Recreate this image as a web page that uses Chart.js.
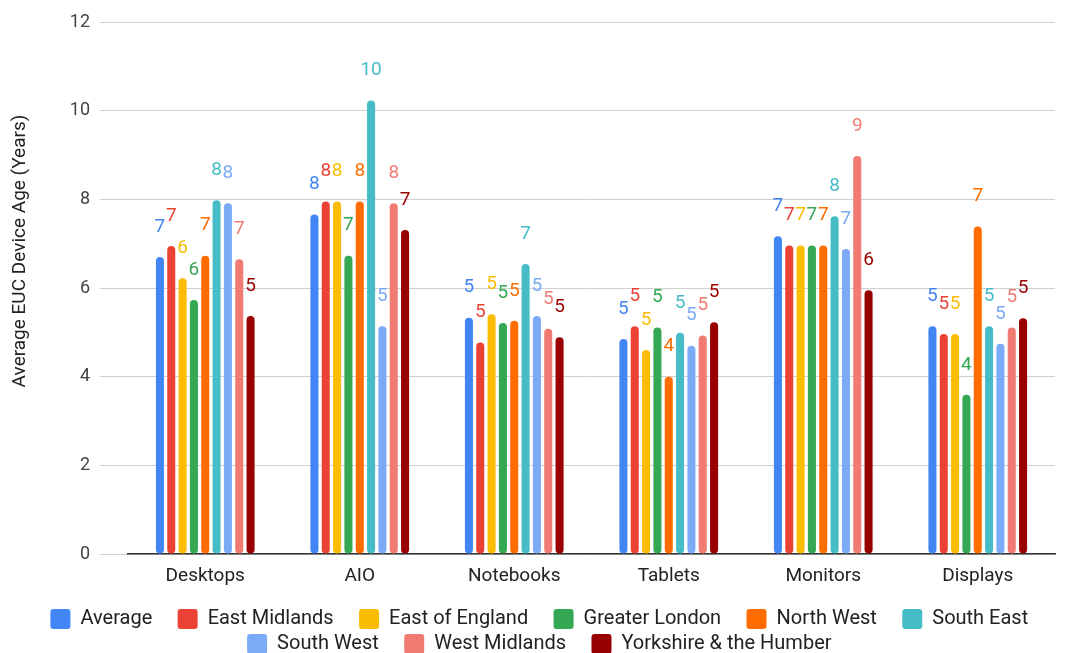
<!DOCTYPE html>
<html>
<head>
<meta charset="utf-8">
<script src="https://cdn.jsdelivr.net/npm/chart.js@4/dist/chart.umd.min.js"></script>
<style>
  body { margin: 0; background: #fff; }
  #wrap { width: 1071px; height: 653px; }
</style>
</head>
<body>
<div id="wrap"><canvas id="ageChart" width="1071" height="653"></canvas></div>
<script>
const categories = ["Desktops", "AIO", "Notebooks", "Tablets", "Monitors", "Displays"];
const yTicks = [0, 2, 4, 6, 8, 10, 12];
const yTitle = "Average EUC Device Age (Years)";

// average device age per region, in years
const average      = [6.70, 7.66, 5.33, 4.85, 7.17, 5.14];
const eastMidlands = [6.95, 7.95, 4.77, 5.14, 6.96, 4.96];
const eastEngland  = [6.22, 7.95, 5.41, 4.60, 6.96, 4.96];
const london       = [5.73, 6.73, 5.21, 5.11, 6.96, 3.59];
const northWest    = [6.73, 7.95, 5.26, 4.00, 6.96, 7.39];
const southEast    = [7.98, 10.23, 6.54, 4.99, 7.62, 5.14];
const southWest    = [7.91, 5.14, 5.37, 4.70, 6.88, 4.74];
const westMidlands = [6.65, 7.91, 5.08, 4.93, 8.98, 5.11];
const yorkshire    = [5.37, 7.31, 4.89, 5.23, 5.95, 5.32];

const series = [
  ["Average", average, "#4285F4"],
  ["East Midlands", eastMidlands, "#EA4335"],
  ["East of England", eastEngland, "#FBBC04"],
  ["Greater London", london, "#34A853"],
  ["North West", northWest, "#FF6D01"],
  ["South East", southEast, "#46BDC6"],
  ["South West", southWest, "#7BAAF7"],
  ["West Midlands", westMidlands, "#F07B72"],
  ["Yorkshire & the Humber", yorkshire, "#990000"]
];

// rounded value written above each bar, in the bar's colour
const barLabels = {
  id: "barLabels",
  afterDatasetsDraw(chart) {
    const ctx = chart.ctx;
    ctx.save();
    ctx.font = "19px Roboto";
    ctx.textAlign = "center";
    ctx.textBaseline = "middle";
    chart.data.datasets.forEach((ds, i) => {
      chart.getDatasetMeta(i).data.forEach((bar, j) => {
        ctx.fillStyle = ds.backgroundColor;
        ctx.fillText(Math.round(ds.data[j]), bar.x, bar.y - 30);
      });
    });
    ctx.restore();
  }
};

// y axis title, sitting a little above the middle of the plot
const sideTitle = {
  id: "sideTitle",
  afterDraw(chart) {
    const { ctx, chartArea } = chart;
    ctx.save();
    ctx.translate(20, (chartArea.top + chartArea.bottom) / 2 - 37);
    ctx.rotate(-Math.PI / 2);
    ctx.font = "19px Roboto";
    ctx.fillStyle = "#222";
    ctx.textAlign = "center";
    ctx.textBaseline = "middle";
    ctx.fillText(yTitle, 0, 0);
    ctx.restore();
  }
};

// move the legend rows down and to the right
const legendShift = {
  id: "legendShift",
  afterLayout(chart) {
    const lg = chart.legend;
    lg.left += 22;
    lg.right += 22;
    lg.top += 11;
    lg.bottom += 11;
  }
};

const defaultLabels = Chart.defaults.plugins.legend.labels.generateLabels;

new Chart(document.getElementById("ageChart"), {
  type: "bar",
  data: {
    labels: categories,
    datasets: series.map(([label, data, color]) => ({
      label,
      data,
      backgroundColor: color,
      borderRadius: 4,
      borderSkipped: false,
      categoryPercentage: 0.66,
      barPercentage: 0.71
    }))
  },
  options: {
    responsive: false,
    animation: false,
    layout: { padding: { top: 22, right: 16, left: 0, bottom: 0 } },
    plugins: {
      tooltip: { enabled: false },
      legend: {
        position: "bottom",
        labels: {
          font: { family: "Roboto", size: 20 },
          color: "#222",
          boxWidth: 20,
          boxHeight: 20,
          useBorderRadius: true,
          borderRadius: 3,
          padding: 5,
          generateLabels(chart) {
            return defaultLabels(chart).map(item => ({ ...item, text: item.text + "\u2002\u2002" }));
          }
        }
      }
    },
    scales: {
      x: {
        grid: { display: false },
        border: { color: "#333", width: 1.5 },
        ticks: { font: { family: "Roboto", size: 19 }, color: "#222", padding: 3 },
        afterFit(scale) { scale.height = 39; }
      },
      y: {
        min: 0,
        max: 12,
        afterBuildTicks(scale) { scale.ticks = yTicks.map(v => ({ value: v })); },
        grid: { color: "#d0d0d0", tickLength: 28, tickColor: "#d0d0d0" },
        border: { display: false },
        ticks: { font: { family: "Roboto", size: 18 }, color: "#444", padding: 10 },
        afterFit(scale) { scale.width = 128; }
      }
    }
  },
  plugins: [barLabels, sideTitle, legendShift]
});
</script>
</body>
</html>
